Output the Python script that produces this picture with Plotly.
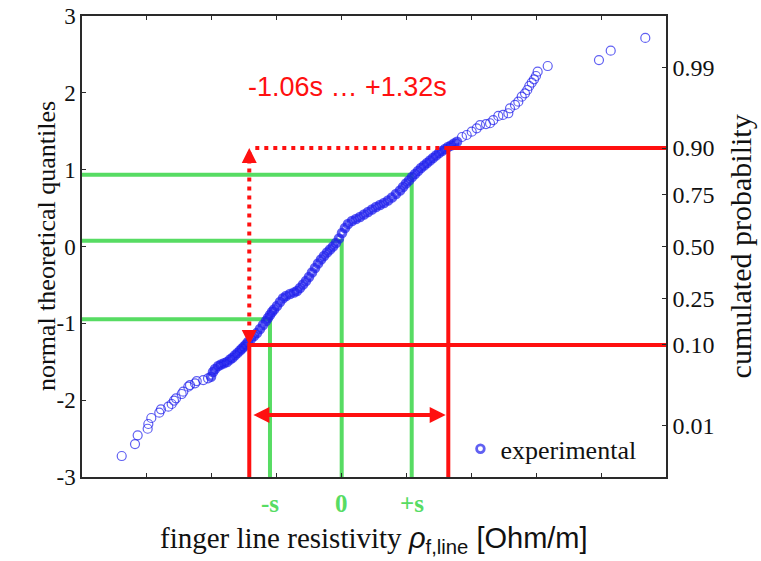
from statistics import NormalDist
import plotly.graph_objects as go

# Sorted sample (arbitrary resistivity units) and its normal theoretical quantiles
resistivity = [
    0.612, 0.817, 0.858, 1.012, 1.022, 1.068, 1.191, 1.217, 1.330, 1.382,
    1.418, 1.449, 1.536, 1.561, 1.638, 1.664, 1.741, 1.768, 1.869, 1.942,
    1.988, 2.019, 2.050, 2.100, 2.142, 2.188, 2.235, 2.281, 2.319, 2.358,
    2.396, 2.435, 2.466, 2.497, 2.527, 2.558, 2.604, 2.651, 2.697, 2.743,
    2.789, 2.836, 2.866, 2.897, 2.928, 2.959, 3.005, 3.051, 3.098, 3.144,
    3.205, 3.267, 3.313, 3.359, 3.406, 3.452, 3.498, 3.544, 3.591, 3.637,
    3.683, 3.729, 3.776, 3.822, 3.868, 3.914, 3.960, 4.007, 4.053, 4.099,
    4.161, 4.223, 4.284, 4.346, 4.408, 4.469, 4.531, 4.592, 4.654, 4.716,
    4.777, 4.839, 4.901, 4.947, 4.993, 5.039, 5.086, 5.132, 5.178, 5.224,
    5.271, 5.317, 5.363, 5.409, 5.455, 5.502, 5.548, 5.594, 5.640, 5.687,
    5.733, 5.779, 5.856, 5.928, 6.006, 6.083, 6.134, 6.226, 6.288, 6.338,
    6.416, 6.488, 6.570, 6.596, 6.673, 6.724, 6.776, 6.827, 6.862, 6.893,
    6.930, 6.966, 6.996, 7.022, 7.177, 7.967, 8.148, 8.681,
]
quantile = [
    -2.727, -2.571, -2.457, -2.372, -2.310, -2.232, -2.163, -2.119, -2.085, -2.050,
    -2.007, -1.976, -1.920, -1.890, -1.825, -1.803, -1.781, -1.751, -1.738, -1.716,
    -1.695, -1.634, -1.594, -1.555, -1.536, -1.520, -1.503, -1.471, -1.447, -1.416,
    -1.386, -1.354, -1.328, -1.302, -1.276, -1.243, -1.204, -1.165, -1.126, -1.074,
    -1.022, -0.970, -0.931, -0.892, -0.853, -0.820, -0.774, -0.722, -0.674, -0.644,
    -0.618, -0.599, -0.579, -0.540, -0.495, -0.449, -0.397, -0.338, -0.280, -0.221,
    -0.169, -0.124, -0.078, -0.039, 0.000, 0.046, 0.104, 0.176, 0.241, 0.293,
    0.332, 0.358, 0.384, 0.417, 0.449, 0.482, 0.514, 0.540, 0.566, 0.599,
    0.638, 0.683, 0.729, 0.774, 0.820, 0.859, 0.905, 0.944, 0.983, 1.022,
    1.054, 1.087, 1.119, 1.152, 1.184, 1.217, 1.243, 1.269, 1.295, 1.315,
    1.341, 1.364, 1.425, 1.451, 1.494, 1.538, 1.581, 1.594, 1.604, 1.646,
    1.699, 1.712, 1.734, 1.799, 1.842, 1.885, 1.950, 1.994, 2.037, 2.089,
    2.132, 2.176, 2.219, 2.275, 2.349, 2.427, 2.549, 2.714,
]

# Cumulated probability scale on the right-hand axis
probabilities = [0.01, 0.10, 0.25, 0.50, 0.75, 0.90, 0.99]
prob_labels = ["0.01", "0.10", "0.25", "0.50", "0.75", "0.90", "0.99"]

# Mean and +/- one standard deviation (x) and their quantile levels (y)
sigma_names = ["-s", "0", "+s"]
sigma_x = [2.897, 4.002, 5.081]
sigma_level = [-0.948, 0.075, 0.935]

# 10 % / 90 % bounds of the distribution
bound_probs = [0.10, 0.90]
bound_x = [2.578, 5.645]
range_text = "-1.06s … +1.32s"

X_MIN, X_MAX = 0, 9
Y_MIN, Y_MAX = -3, 3

nd = NormalDist()
prob_z = [nd.inv_cdf(p) for p in probabilities]
bound_z = [nd.inv_cdf(p) for p in bound_probs]

RED = "#ff1010"
GREEN = "#57dc63"
BLUE = "rgb(28,28,236)"
SERIF = "Liberation Serif, Times New Roman, serif"
SANS = "Liberation Sans, Arial, sans-serif"

# In the body of the distribution the rings overlap into a solid band:
# draw those points with a heavier outline.
BAND_LO, BAND_HI = -1.70, 1.37
ring_width = [3.6 if BAND_LO <= q <= BAND_HI else 1.2 for q in quantile]
ring_size = [7 if BAND_LO <= q <= BAND_HI else 9 for q in quantile]

fig = go.Figure()

# green guides: quantile level -> sample value -> x axis
for xv, lv in zip(sigma_x, sigma_level):
    fig.add_trace(go.Scatter(
        x=[X_MIN, xv, xv], y=[lv, lv, Y_MIN], mode="lines",
        line=dict(color=GREEN, width=4), showlegend=False, hoverinfo="skip"))

# experimental points
fig.add_trace(go.Scatter(
    x=resistivity, y=quantile, mode="markers", name="experimental",
    marker=dict(symbol="circle-open", size=ring_size, color=BLUE,
                line=dict(width=ring_width, color=BLUE))))

# red bounds at the 10 % and 90 % probability levels
for xv, zv in zip(bound_x, bound_z):
    fig.add_trace(go.Scatter(
        x=[X_MAX, xv, xv], y=[zv, zv, Y_MIN], mode="lines",
        line=dict(color=RED, width=4), showlegend=False, hoverinfo="skip"))

# dotted span between the two bounds
fig.add_trace(go.Scatter(
    x=[bound_x[1], bound_x[0] + 0.08], y=[bound_z[1], bound_z[1]], mode="lines",
    line=dict(color=RED, width=4, dash="4px,5px"), showlegend=False, hoverinfo="skip"))
fig.add_trace(go.Scatter(
    x=[bound_x[0], bound_x[0]], y=[bound_z[1] - 0.15, bound_z[0] + 0.15], mode="lines",
    line=dict(color=RED, width=4, dash="4px,5px"), showlegend=False, hoverinfo="skip"))

# invisible trace so the right axis is drawn
fig.add_trace(go.Scatter(x=[X_MIN], y=[Y_MIN], yaxis="y2", mode="markers",
                         marker=dict(opacity=0), showlegend=False, hoverinfo="skip"))

annotations = []
# arrow heads of the dotted vertical span
for tip, tail in [(bound_z[1], bound_z[1] - 0.12), (bound_z[0], bound_z[0] + 0.12)]:
    annotations.append(dict(
        x=bound_x[0], y=tip, ax=bound_x[0], ay=tail, xref="x", yref="y",
        axref="x", ayref="y", text="", showarrow=True, arrowhead=2,
        arrowsize=0.75, arrowwidth=4, arrowcolor=RED, standoff=0))
# double arrow at the bottom
annotations.append(dict(
    x=bound_x[1] - 0.04, y=-2.193, ax=bound_x[0] + 0.04, ay=-2.193,
    xref="x", yref="y", axref="x", ayref="y", text="", showarrow=True,
    arrowhead=2, arrowside="end+start", arrowsize=0.8, arrowwidth=4,
    arrowcolor=RED, standoff=0, startstandoff=0))
# range text
annotations.append(dict(
    x=4.09, y=2.08, xref="x", yref="y", text=range_text, showarrow=False,
    font=dict(family=SANS, size=27, color=RED)))
# sigma labels under the axis
for name, xv in zip(sigma_names, sigma_x):
    annotations.append(dict(
        x=xv, y=-0.058, xref="x", yref="paper", text="<b>%s</b>" % name,
        showarrow=False, yanchor="middle",
        font=dict(family=SERIF, size=25, color=GREEN)))
# axis titles
annotations.append(dict(
    x=-0.089, y=0.5, xref="paper", yref="paper", text="normal theoretical quantiles",
    textangle=-90, showarrow=False, font=dict(family=SERIF, size=26, color="#111")))
annotations.append(dict(
    x=1.16, y=0.5, xref="paper", yref="paper", text="cumulated probability",
    textangle=-90, showarrow=False, font=dict(family=SERIF, size=30, color="#111")))
annotations.append(dict(
    x=0.50, y=-0.137, xref="paper", yref="paper", showarrow=False, yanchor="middle",
    text=("finger line resistivity "
          "<span style='font-family:Liberation Sans'><i>ρ</i>"
          "<sub>f,line</sub> [Ohm/m]</span>"),
    font=dict(family=SERIF, size=29, color="#111")))

axis_line = dict(showline=True, linecolor="#2a2a2a", linewidth=1.5,
                 ticks="inside", ticklen=4, tickcolor="#2a2a2a", tickwidth=1.2,
                 showgrid=False, zeroline=False, automargin=False)

fig.update_layout(
    width=761, height=561,
    margin=dict(l=82, r=95, t=16, b=84),
    paper_bgcolor="white", plot_bgcolor="white",
    xaxis=dict(range=[X_MIN, X_MAX], tickvals=list(range(1, 9)),
               showticklabels=False, mirror="ticks", **axis_line),
    yaxis=dict(range=[Y_MIN, Y_MAX], tickvals=[-3, -2, -1, 0, 1, 2, 3],
               ticktext=["-3", "-2", "-1", "0", "1", "2", "3"],
               tickfont=dict(family=SERIF, size=23, color="#111"), **axis_line),
    yaxis2=dict(range=[Y_MIN, Y_MAX], overlaying="y", side="right",
                tickvals=prob_z, ticktext=prob_labels,
                tickfont=dict(family=SERIF, size=24, color="#111"), **axis_line),
    legend=dict(x=0.648, y=0.01, xanchor="left", yanchor="bottom",
                bgcolor="rgba(0,0,0,0)", font=dict(family=SERIF, size=26, color="#111")),
    annotations=annotations,
    showlegend=True,
)

fig.write_html("out.html")
